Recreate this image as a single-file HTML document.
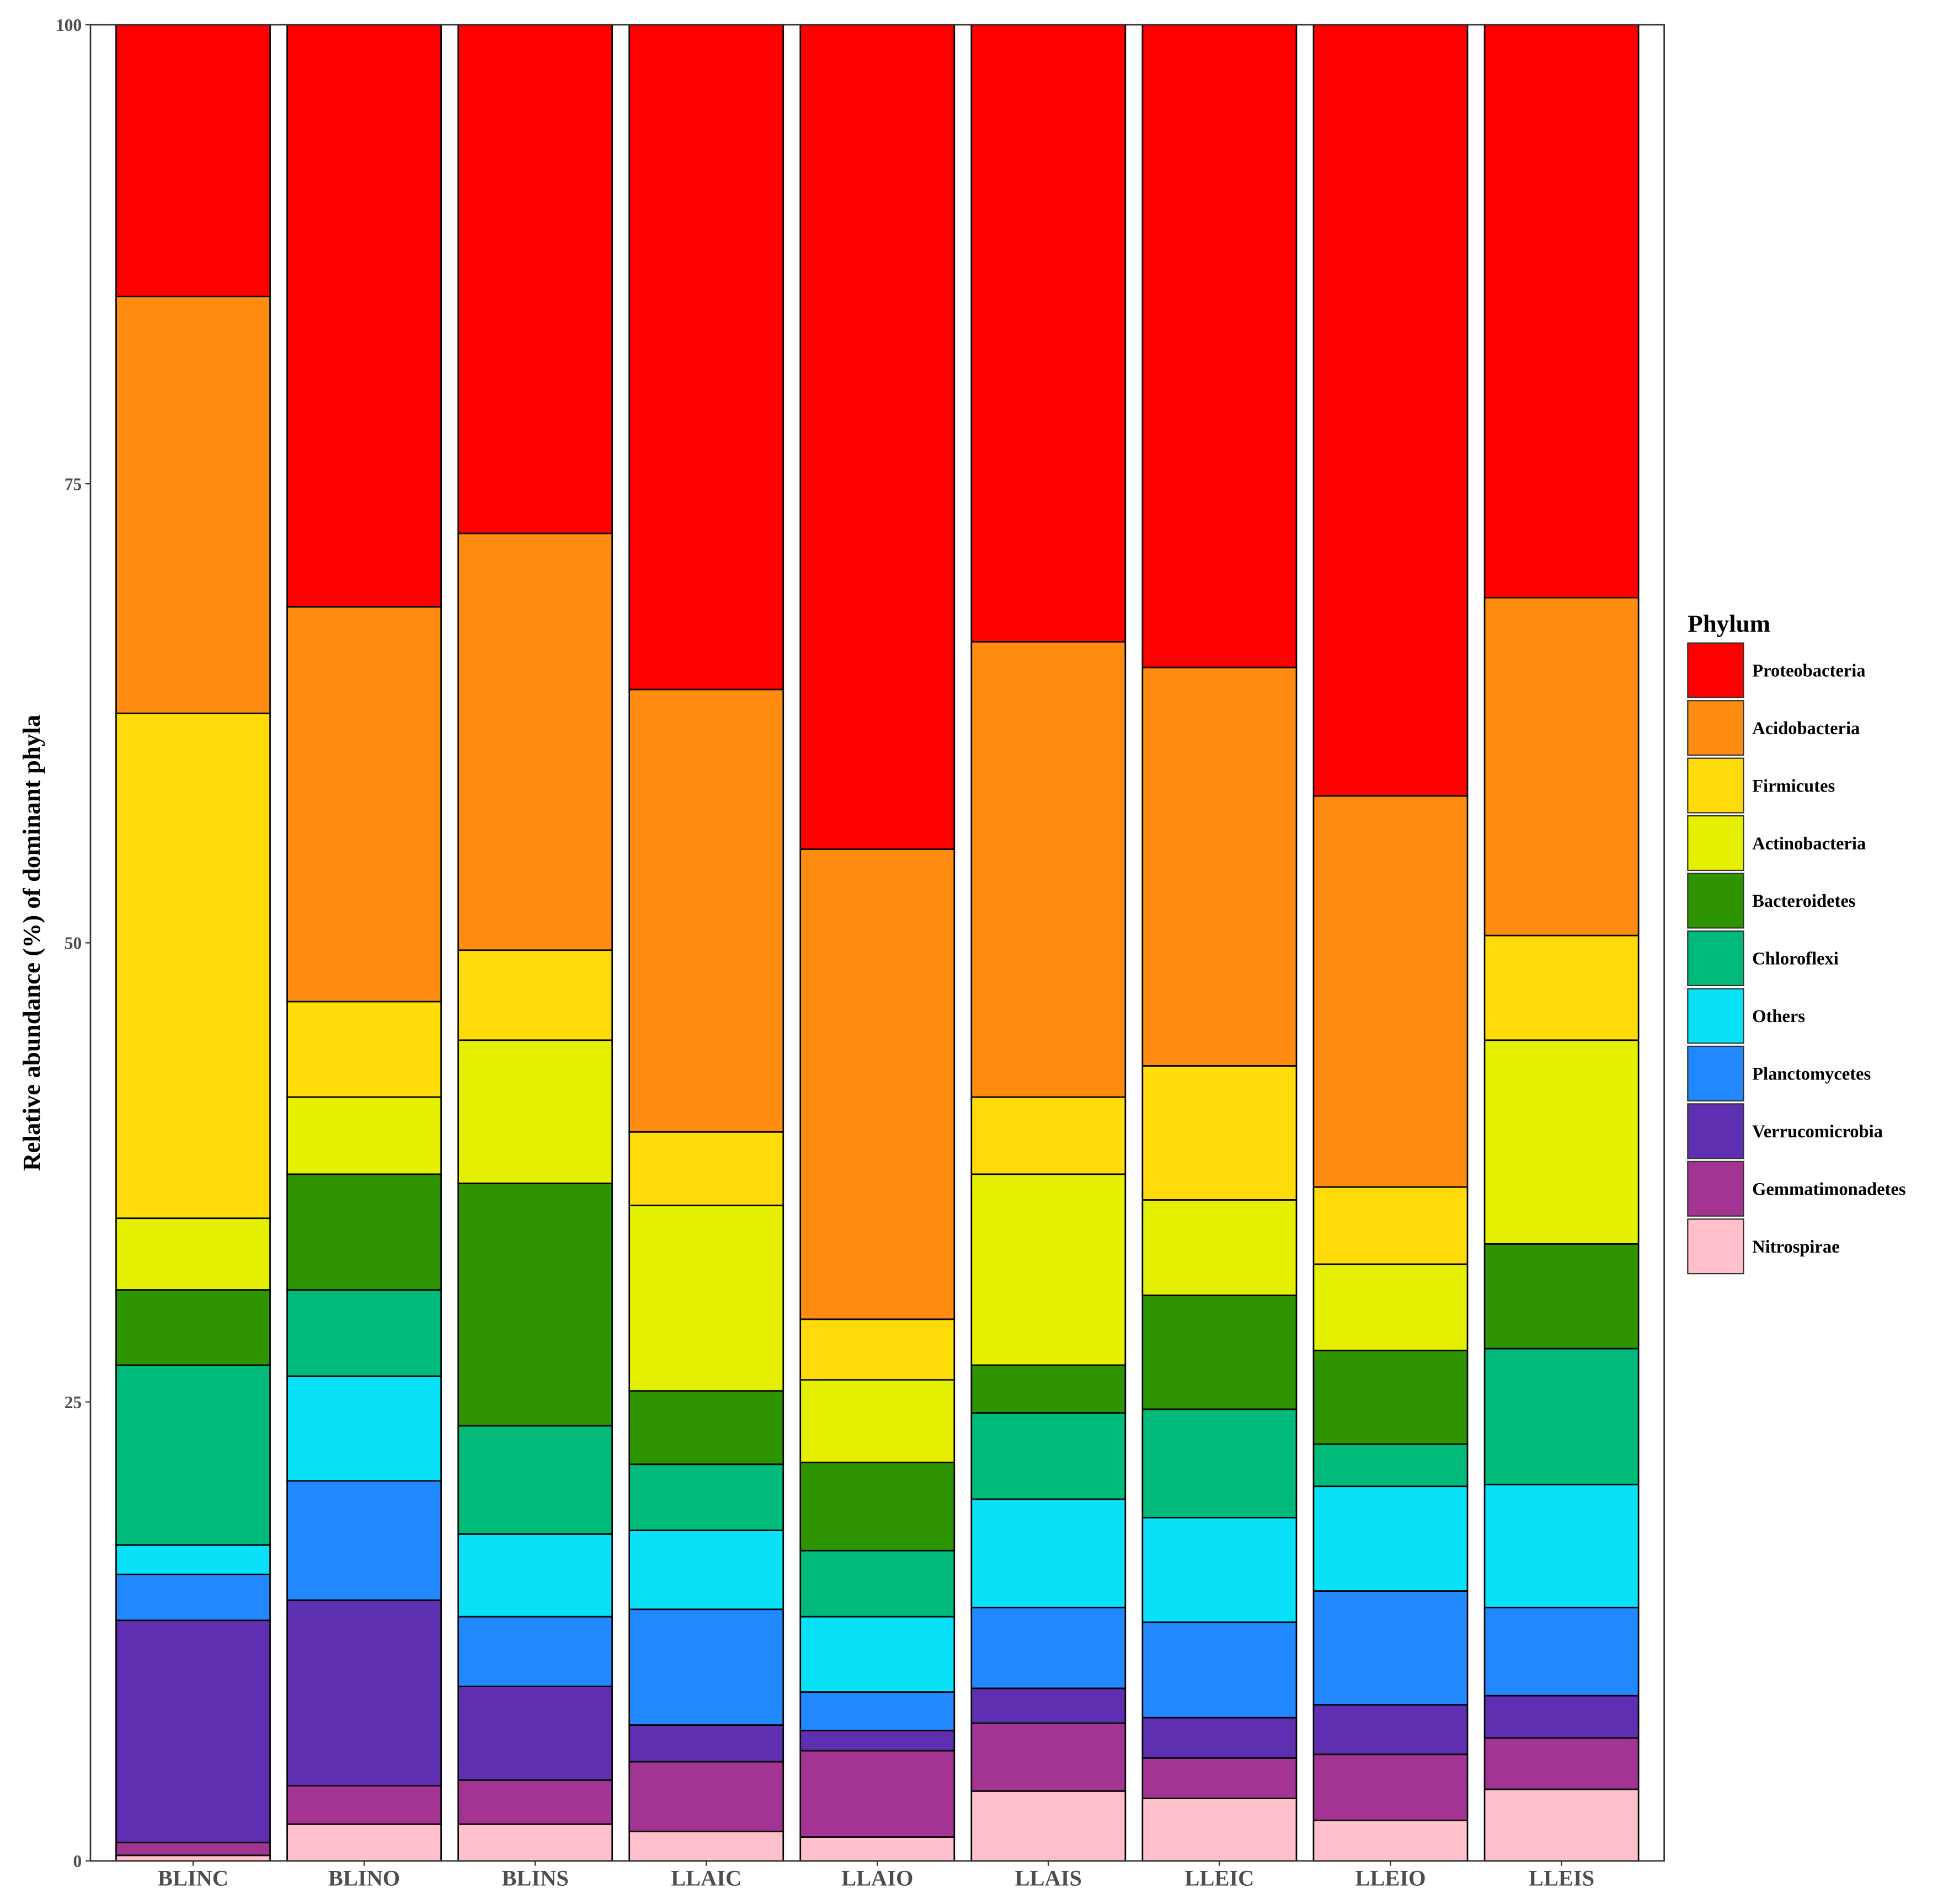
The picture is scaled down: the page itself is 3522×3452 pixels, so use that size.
<!DOCTYPE html>
<html><head><meta charset="utf-8"><style>
html,body{margin:0;padding:0;background:#fff;}
svg{display:block;}
text{font-family:"Liberation Serif",serif;font-weight:bold;}
</style></head><body>
<svg id="chart" width="3522" height="3452" viewBox="0 0 1568 1536.8" preserveAspectRatio="none" xmlns="http://www.w3.org/2000/svg">
<rect x="0" y="0" width="1568" height="1537" fill="#fff"/>
<g id="bars"></g>
<g id="axes"></g>
<g id="legend"></g>
</svg>
<script>
const samples = ["BLINC","BLINO","BLINS","LLAIC","LLAIO","LLAIS","LLEIC","LLEIO","LLEIS"];
const phyla = ["Proteobacteria","Acidobacteria","Firmicutes","Actinobacteria","Bacteroidetes","Chloroflexi","Others","Planctomycetes","Verrucomicrobia","Gemmatimonadetes","Nitrospirae"];
const colors = ["#FF0000","#FF8C10","#FFDB0A","#E5F000","#2E9400","#00BA7A","#08E1F8","#2288FF","#5E2FB0","#A33494","#FFC0CB"];
const Proteobacteria = [14.8,31.7,27.7,36.2,44.9,33.6,35.0,42.0,31.2];
const Acidobacteria = [22.7,21.5,22.7,24.1,25.6,24.8,21.7,21.3,18.4];
const Firmicutes = [27.5,5.2,4.9,4.0,3.3,4.2,7.3,4.2,5.7];
const Actinobacteria = [3.9,4.2,7.8,10.1,4.5,10.4,5.2,4.7,11.1];
const Bacteroidetes = [4.1,6.3,13.2,4.0,4.8,2.6,6.2,5.1,5.7];
const Chloroflexi = [9.8,4.7,5.9,3.6,3.6,4.7,5.9,2.3,7.4];
const Others = [1.6,5.7,4.5,4.3,4.1,5.9,5.7,5.7,6.7];
const Planctomycetes = [2.5,6.5,3.8,6.3,2.1,4.4,5.2,6.2,4.8];
const Verrucomicrobia = [12.1,10.1,5.1,2.0,1.1,1.9,2.2,2.7,2.3];
const Gemmatimonadetes = [0.7,2.1,2.4,3.8,4.7,3.7,2.2,3.6,2.8];
const Nitrospirae = [0.3,2.0,2.0,1.6,1.3,3.8,3.4,2.2,3.9];
const yTicks = [0,25,50,75,100];

const series = [Proteobacteria,Acidobacteria,Firmicutes,Actinobacteria,Bacteroidetes,Chloroflexi,Others,Planctomycetes,Verrucomicrobia,Gemmatimonadetes,Nitrospirae];
const NS="http://www.w3.org/2000/svg";
const L=73,R=1343,T=20,B=1502;
const step=(R-L)/(samples.length+0.2);
const bw=step*0.9;
function xC(i){return L+step*(0.6+i);}
function yS(v){return B-(B-T)*v/100;}
function mk(tag,attrs,parent){const e=document.createElementNS(NS,tag);for(const k in attrs)e.setAttribute(k,attrs[k]);parent.appendChild(e);return e;}
const bars=document.getElementById('bars'),axes=document.getElementById('axes'),leg=document.getElementById('legend');

samples.forEach((s,i)=>{
  let cum=0;
  for(let p=phyla.length-1;p>=0;p--){
    const v=series[p][i];
    const y0=yS(cum),y1=yS(cum+v);
    const r=mk('rect',{x:xC(i)-bw/2,y:y1,width:bw,height:y0-y1,fill:colors[p],stroke:'#000','stroke-width':1.2},bars);
    
    
    cum+=v;
  }
  const t=mk('text',{x:xC(i),y:B+20,'text-anchor':'middle','font-size':18,fill:'#4d4d4d'},axes);
  t.textContent=s;
  
  
  mk('line',{x1:xC(i),x2:xC(i),y1:B,y2:B+4,stroke:'#333','stroke-width':1},axes);
});
const border=mk('rect',{x:L,y:T,width:R-L,height:B-T,fill:'none',stroke:'#333','stroke-width':1.2},axes);


yTicks.forEach(v=>{
  mk('line',{x1:L-4,x2:L,y1:yS(v),y2:yS(v),stroke:'#333','stroke-width':1},axes);
  const t=mk('text',{x:L-7,y:yS(v)+5,'text-anchor':'end','font-size':14,fill:'#4d4d4d'},axes);
  t.textContent=v;
  
  
});
const yt=mk('text',{x:0,y:0,transform:'translate(32,761) rotate(-90)','text-anchor':'middle','font-size':20,fill:'#000'},axes);
yt.textContent='Relative abundance (%) of dominant phyla';



const lt=mk('text',{x:1362,y:510,'font-size':20,fill:'#000'},leg);
lt.textContent='Phylum';


phyla.forEach((p,k)=>{
  const y=519+k*46.5;
  const g=mk('g',{},leg);
  
  
  mk('rect',{x:1362,y:y,width:45,height:44,fill:colors[k],stroke:'#333','stroke-width':1},g);
  const t=mk('text',{x:1414,y:y+27,'font-size':14.5,fill:'#000'},g);
  t.textContent=p;
});
</script>
</body></html>
